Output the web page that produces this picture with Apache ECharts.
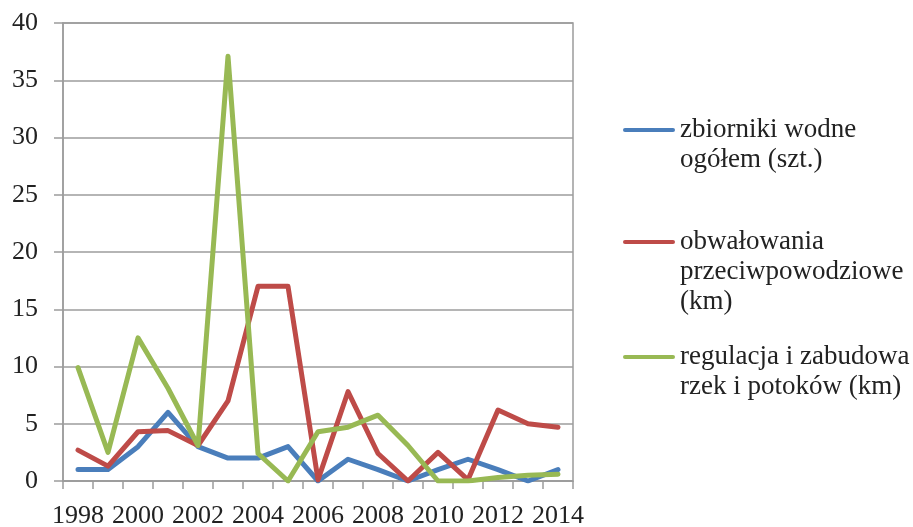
<!DOCTYPE html>
<html>
<head>
<meta charset="utf-8">
<script src="https://cdn.jsdelivr.net/npm/echarts@6/dist/echarts.min.js"></script>
<style>
  html, body { margin: 0; padding: 0; background: #fff; }
  #main { width: 913px; height: 527px; }
</style>
</head>
<body>
<div id="main"></div>
<script>
// lata
const years = ['1998', '1999', '2000', '2001', '2002', '2003', '2004', '2005', '2006',
  '2007', '2008', '2009', '2010', '2011', '2012', '2013', '2014'];

// zbiorniki wodne ogółem (szt.)
const zbiorniki = [1, 1, 3, 6, 3, 2, 2, 3, 0, 1.9, 1, 0, 1, 1.9, 1, 0, 1];
// obwałowania przeciwpowodziowe (km)
const obwalowania = [2.7, 1.3, 4.3, 4.4, 3.1, 7.0, 17, 17, 0.1, 7.8, 2.4, 0, 2.5, 0.1, 6.2, 5.0, 4.7];
// regulacja i zabudowa rzek i potoków (km)
const regulacja = [9.9, 2.5, 12.5, 8.1, 3.1, 37.1, 2.4, 0, 4.3, 4.7, 5.75, 3.1, 0, 0, 0.3, 0.5, 0.6];

const names = [
  'zbiorniki wodne ogółem (szt.)',
  'obwałowania przeciwpowodziowe (km)',
  'regulacja i zabudowa rzek i potoków (km)'
];
// etykiety legendy (puste linie na górze, żeby kreska stała przy pierwszym wierszu)
const legendText = {
  [names[0]]: '\nzbiorniki wodne\nogółem (szt.)',
  [names[1]]: '\n\nobwałowania\nprzeciwpowodziowe\n(km)',
  [names[2]]: '\nregulacja i zabudowa\nrzek i potoków (km)'
};

const colors = ['#4A7EBB', '#BE4B48', '#98B954'];
const font = 'Liberation Serif';
const gridColor = '#9c9c9c';

function legendFor(name, top) {
  return {
    data: [name],
    orient: 'vertical',
    left: 623,
    top: top,
    padding: 0,
    itemWidth: 52,
    itemHeight: 14,
    icon: 'path://M2,0 L50,0 A2,2 0 0 1 50,4 L2,4 A2,2 0 0 1 2,0 Z',
    formatter: n => legendText[n],
    textStyle: { fontFamily: font, fontSize: 27, color: '#222', lineHeight: 30 }
  };
}

const option = {
  animation: false,
  color: colors,
  grid: {
    left: 63, right: 340, top: 23, bottom: 46,
    outerBoundsMode: 'none',
    show: true, borderColor: gridColor, borderWidth: 1.5
  },
  legend: [
    legendFor(names[0], 85),
    legendFor(names[1], 167),
    legendFor(names[2], 312)
  ],
  xAxis: {
    type: 'category',
    data: years,
    boundaryGap: true,
    axisLine: { lineStyle: { color: gridColor, width: 1.5 } },
    axisTick: { show: true, interval: 0, length: 8, lineStyle: { color: gridColor, width: 1.5 } },
    axisLabel: { interval: 1, margin: 22, fontFamily: font, fontSize: 26, color: '#222' }
  },
  yAxis: {
    type: 'value',
    min: 0, max: 40, interval: 5,
    axisLine: { show: true, lineStyle: { color: gridColor, width: 1.5 } },
    axisTick: { show: true, length: 9, lineStyle: { color: gridColor, width: 1.5 } },
    axisLabel: { margin: 25, fontFamily: font, fontSize: 26, color: '#222' },
    splitLine: { lineStyle: { color: gridColor, width: 1.5 } }
  },
  series: [
    { name: names[0], type: 'line', data: zbiorniki },
    { name: names[1], type: 'line', data: obwalowania },
    { name: names[2], type: 'line', data: regulacja }
  ].map(s => Object.assign(s, {
    symbol: 'none',
    lineStyle: { width: 5, join: 'round', cap: 'round' }
  }))
};

const chart = echarts.init(document.getElementById('main'));
chart.setOption(option);
</script>
</body>
</html>
